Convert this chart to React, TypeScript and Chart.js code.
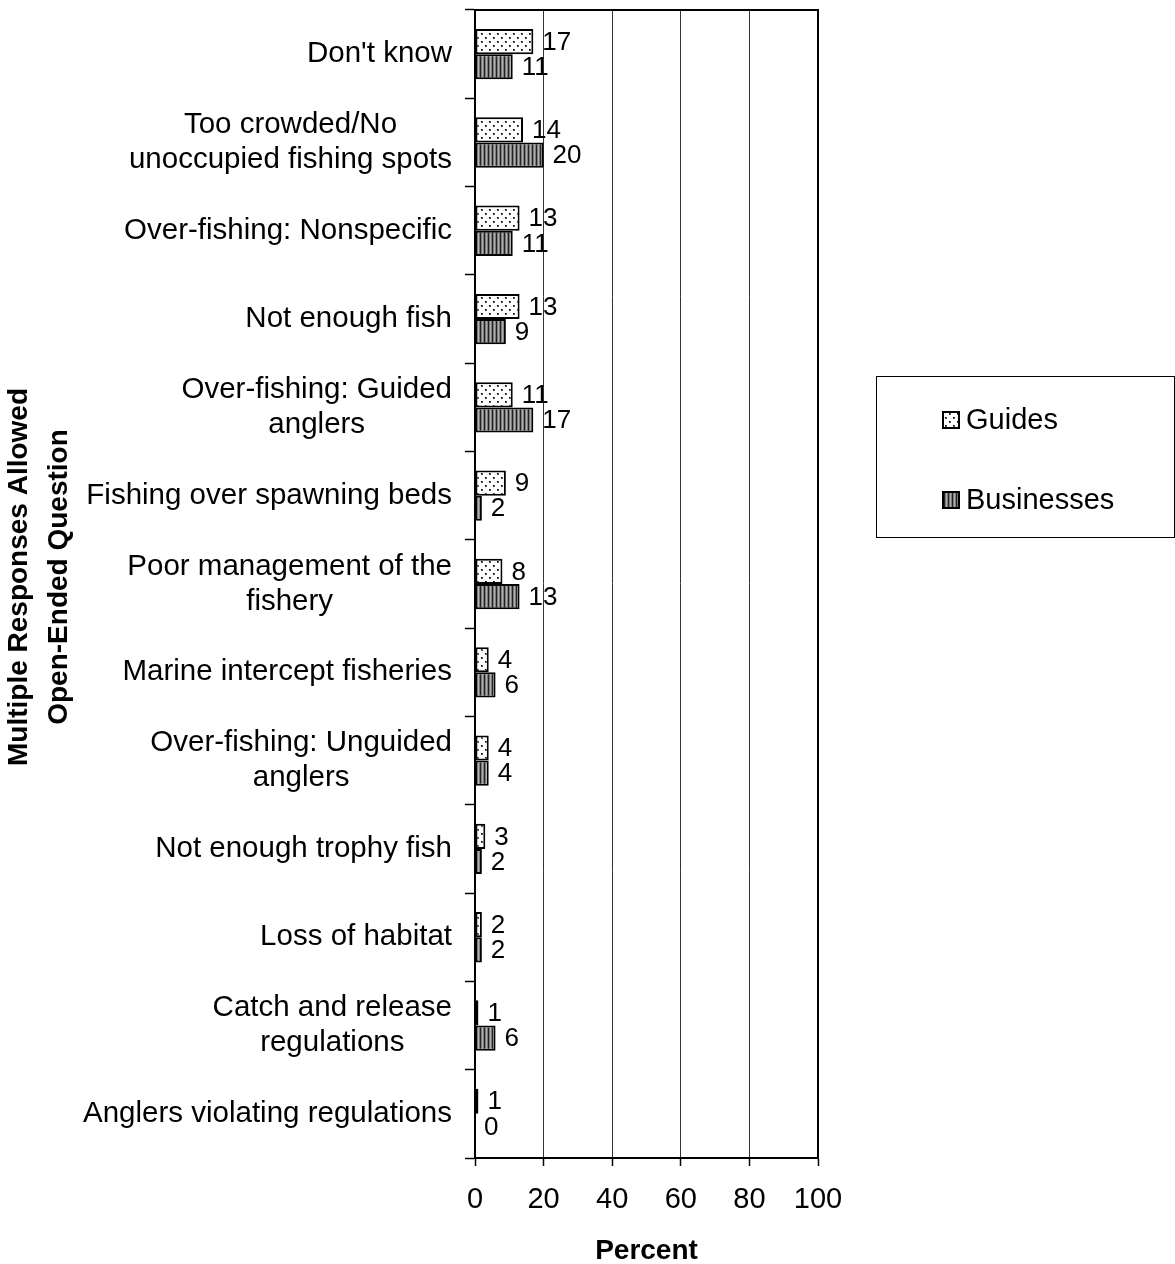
import React, { useEffect, useRef } from "react";
import { Chart, registerables } from "chart.js";

Chart.register(...registerables);

const categories: (string | string[])[] = [
  "Don't know",
  ["Too crowded/No", "unoccupied fishing spots"],
  "Over-fishing: Nonspecific",
  "Not enough fish",
  ["Over-fishing: Guided", "anglers"],
  "Fishing over spawning beds",
  ["Poor management of the", "fishery"],
  "Marine intercept fisheries",
  ["Over-fishing: Unguided", "anglers"],
  "Not enough trophy fish",
  "Loss of habitat",
  ["Catch and release", "regulations"],
  "Anglers violating regulations",
];

const guidesValues = [17, 14, 13, 13, 11, 9, 8, 4, 4, 3, 2, 1, 1];
const businessesValues = [11, 20, 11, 9, 17, 2, 13, 6, 4, 2, 2, 6, 0];

const seriesNames = ["Guides", "Businesses"];
const xAxisTitle = "Percent";
const yAxisTitleLines = ["Multiple Responses Allowed", "Open-Ended Question"];

const FONT = '"Liberation Sans", Arial, Helvetica, sans-serif';

function makeDotPattern(ctx: CanvasRenderingContext2D): CanvasPattern {
  const c = document.createElement("canvas");
  c.width = 8;
  c.height = 8;
  const g = c.getContext("2d")!;
  g.fillStyle = "#ffffff";
  g.fillRect(0, 0, 8, 8);
  g.fillStyle = "#555555";
  g.fillRect(1, 1, 2, 2);
  g.fillRect(5, 5, 2, 2);
  g.fillStyle = "#000000";
  g.fillRect(1, 1, 1, 1);
  g.fillRect(5, 5, 1, 1);
  return ctx.createPattern(c, "repeat")!;
}

function makeStripePattern(ctx: CanvasRenderingContext2D): CanvasPattern {
  const c = document.createElement("canvas");
  c.width = 4;
  c.height = 4;
  const g = c.getContext("2d")!;
  const cols = ["#222222", "#7a7a7a", "#b0b0b0", "#7a7a7a"];
  cols.forEach((col, i) => {
    g.fillStyle = col;
    g.fillRect(i, 0, 1, 4);
  });
  return ctx.createPattern(c, "repeat")!;
}

export default function App() {
  const canvasRef = useRef<HTMLCanvasElement | null>(null);

  useEffect(() => {
    const canvas = canvasRef.current!;
    const ctx0 = canvas.getContext("2d")!;
    const dots = makeDotPattern(ctx0);
    const stripes = makeStripePattern(ctx0);
    const patterns = [dots, stripes];

    const overlay = {
      id: "overlay",
      afterDraw(chart: any) {
        const ctx: CanvasRenderingContext2D = chart.ctx;
        const { left, right, top, bottom } = chart.chartArea;
        ctx.save();
        // frame
        ctx.strokeStyle = "#000";
        ctx.lineWidth = 2;
        ctx.beginPath();
        ctx.moveTo(left - 1, top);
        ctx.lineTo(right, top);
        ctx.lineTo(right, bottom + 1);
        ctx.stroke();

        // category labels
        const yScale = chart.scales.y;
        ctx.font = `29.5px ${FONT}`;
        ctx.fillStyle = "#000";
        ctx.textAlign = "center";
        ctx.textBaseline = "middle";
        categories.forEach((lab, i) => {
          const lines = Array.isArray(lab) ? lab : [lab];
          const cy = yScale.getPixelForValue(i);
          const maxW = Math.max(...lines.map((l) => ctx.measureText(l).width));
          const cx = left - 23 - maxW / 2;
          lines.forEach((l, j) => {
            ctx.fillText(l, cx, cy + (j - (lines.length - 1) / 2) * 35);
          });
        });

        // data labels
        ctx.font = `26px ${FONT}`;
        ctx.textAlign = "left";
        chart.data.datasets.forEach((ds: any, di: number) => {
          const meta = chart.getDatasetMeta(di);
          meta.data.forEach((el: any, i: number) => {
            ctx.fillText(String(ds.data[i]), el.x + 9, el.y + 1);
          });
        });

        // axis titles
        ctx.font = `bold 28px ${FONT}`;
        ctx.textAlign = "center";
        ctx.textBaseline = "alphabetic";
        ctx.fillText(xAxisTitle, (left + right) / 2, 1259);
        ctx.save();
        ctx.translate(0, 577);
        ctx.rotate(-Math.PI / 2);
        yAxisTitleLines.forEach((l, j) => {
          ctx.fillText(l, 0, 27 + j * 40);
        });
        ctx.restore();

        // legend
        ctx.lineWidth = 1;
        ctx.strokeStyle = "#000";
        ctx.strokeRect(876.5, 376.5, 298, 161);
        const legendY = [420, 500];
        ctx.font = `29px ${FONT}`;
        ctx.textAlign = "left";
        ctx.textBaseline = "middle";
        seriesNames.forEach((name, k) => {
          const y = legendY[k];
          ctx.fillStyle = patterns[k];
          ctx.fillRect(942, y - 9, 18, 18);
          ctx.lineWidth = 2;
          ctx.strokeStyle = "#000";
          ctx.strokeRect(943, y - 8, 16, 16);
          ctx.fillStyle = "#000";
          ctx.fillText(name, 966, y + 1);
        });
        ctx.restore();
      },
    };

    const chart = new Chart(canvas, {
      type: "bar",
      data: {
        labels: categories.map((c) => (Array.isArray(c) ? c.join(" ") : c)),
        datasets: [
          {
            label: seriesNames[0],
            data: guidesValues,
            backgroundColor: dots as any,
            borderColor: "#000",
            borderWidth: 2,
            borderSkipped: false,
            categoryPercentage: 0.57,
            barPercentage: 1,
          },
          {
            label: seriesNames[1],
            data: businessesValues,
            backgroundColor: stripes as any,
            borderColor: "#000",
            borderWidth: 2,
            borderSkipped: false,
            categoryPercentage: 0.57,
            barPercentage: 1,
          },
        ],
      },
      options: {
        indexAxis: "y",
        responsive: false,
        animation: false,
        devicePixelRatio: 1,
        layout: { padding: { left: 0, top: 10, right: 357, bottom: 0 } },
        plugins: {
          legend: { display: false },
          tooltip: { enabled: false },
          title: { display: false },
        },
        scales: {
          x: {
            min: 0,
            max: 100,
            ticks: {
              stepSize: 20,
              color: "#000",
              font: { family: FONT, size: 29 },
              padding: 17,
            },
            grid: {
              color: "#333",
              lineWidth: 1,
              drawTicks: true,
              tickLength: 8,
              tickColor: "#000",
              tickWidth: 1.5,
            },
            border: { display: true, color: "#000", width: 2 },
            afterFit(scale: any) {
              scale.height = 106;
            },
          },
          y: {
            ticks: { display: false },
            grid: {
              offset: true,
              drawOnChartArea: false,
              drawTicks: true,
              tickLength: 10,
              tickColor: "#000",
              tickWidth: 1.5,
            },
            border: { display: true, color: "#000", width: 2 },
            afterFit(scale: any) {
              scale.width = 475;
            },
          },
        },
      },
      plugins: [overlay],
    } as any);

    return () => chart.destroy();
  }, []);

  return (
    <div style={{ position: "absolute", left: 0, top: 0, width: 1175, height: 1264 }}>
      <canvas ref={canvasRef} width={1175} height={1264} style={{ display: "block" }} />
    </div>
  );
}
